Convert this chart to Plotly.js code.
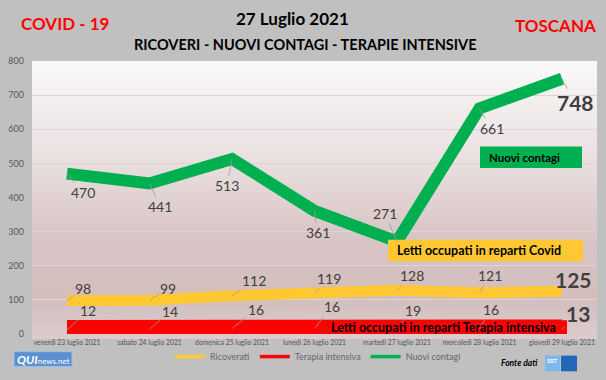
<!DOCTYPE html>
<html>
<head>
<meta charset="utf-8">
<script src="https://cdn.plot.ly/plotly-3.0.1.min.js"></script>
<style>
  html, body { margin:0; padding:0; background:#c0c0c0; }
  #wrap { position:relative; width:606px; height:380px; background:#c0c0c0; overflow:hidden; }
  #grad { position:absolute; left:32px; top:61px; width:565px; height:278px;
          background:linear-gradient(to bottom, #faf9f9 0%, #eae0e0 35%, #d9c6c6 62%, #d3bdbd 85%, #dccdcd 100%); }
  #chart { position:absolute; left:0; top:0; width:606px; height:380px; }
</style>
</head>
<body>
<div id="wrap"><div id="grad"></div><div id="chart"></div></div>
<script>
// ---- data ----
const dates = ['venerdì 23 luglio 2021', 'sabato 24 luglio 2021', 'domenica 25 luglio 2021',
               'lunedì 26 luglio 2021', 'martedì 27 luglio 2021', 'mercoledì 28 luglio 2021',
               'giovedì 29 luglio 2021'];
const ricoverati = [98, 99, 112, 119, 128, 121, 125];
const terapia = [12, 14, 16, 16, 19, 16, 13];
const contagi = [470, 441, 513, 361, 271, 661, 748];
const seriesNames = ['Ricoverati', 'Terapia intensiva', 'Nuovi contagi'];
const yTicks = [0, 100, 200, 300, 400, 500, 600, 700, 800];

// ---- styling ----
const GREEN = '#00b050', YELLOW = '#ffc832', RED = '#ff0000';
const FONT = 'Lato, "Open Sans", sans-serif';
const L = 32, R = 597, T = 61, B = 339;
const px = v => (v - L) / (R - L);
const py = v => (B - v) / (B - T);

const traces = [
  {x: dates, y: terapia, name: seriesNames[1], mode: 'lines', line: {color: RED, width: 20}, showlegend: false, hoverinfo: 'skip'},
  {x: dates, y: ricoverati, name: seriesNames[0], mode: 'lines', line: {color: YELLOW, width: 11}, showlegend: false, hoverinfo: 'skip'},
  {x: dates, y: contagi, name: seriesNames[2], mode: 'lines', line: {color: GREEN, width: 12}, showlegend: false, hoverinfo: 'skip'},
  // legend entries
  {x: [null], y: [null], name: seriesNames[0], mode: 'lines', line: {color: YELLOW, width: 3.5}},
  {x: [null], y: [null], name: seriesNames[1], mode: 'lines', line: {color: RED, width: 3.5}},
  {x: [null], y: [null], name: seriesNames[2], mode: 'lines', line: {color: GREEN, width: 3.5}}
];

// label offsets (pixels, text centre relative to point)
const gOff = [[16,19],[11,23],[-5,27],[3,22],[-12,-28],[12,20],[13,24]];
const yOff = [[16,-12],[19,-12],[22,-15],[14,-15],[15,-15],[10,-17],[11,-12]];
const rOff = [[21,-19],[21,-18],[24,-19],[17,-22],[16,-17],[11,-19],[16,-16]];

const annotations = [];
function addLabels(vals, offs) {
  vals.forEach((v, i) => {
    const last = i === vals.length - 1;
    annotations.push({
      x: dates[i], y: v, xref: 'x', yref: 'y',
      text: last ? '<b>' + v + '</b>' : String(v),
      showarrow: true, arrowhead: 0, arrowwidth: 0.8, arrowcolor: '#9a9a9a',
      ax: offs[i][0], ay: offs[i][1], standoff: 0,
      font: {family: FONT, size: last ? 21 : 14, color: '#404040'}
    });
  });
}
addLabels(contagi, gOff);
addLabels(ricoverati, yOff);
addLabels(terapia, rOff);

// box texts
annotations.push(
  {xref:'paper', yref:'paper', x: px(487), y: py(159), xanchor:'left', yanchor:'middle', showarrow:false,
   text:'<b>Nuovi contagi</b>', font:{family:FONT, size:11.5, color:'#000'}},
  {xref:'paper', yref:'paper', x: px(395), y: py(254), xanchor:'left', yanchor:'middle', showarrow:false,
   text:'<b>Letti occupati in reparti Covid</b>', font:{family:FONT, size:12.5, color:'#000'}},
  {xref:'paper', yref:'paper', x: px(329), y: py(332), xanchor:'left', yanchor:'middle', showarrow:false,
   text:'<b>Letti occupati in reparti Terapia intensiva</b>', font:{family:FONT, size:12.5, color:'#000'}},
  // titles
  {xref:'paper', yref:'paper', x: px(292), y: py(18), xanchor:'center', yanchor:'middle', showarrow:false,
   text:'<b>27 Luglio 2021</b>', font:{family:FONT, size:17, color:'#000'}},
  {xref:'paper', yref:'paper', x: px(305), y: py(44), xanchor:'center', yanchor:'middle', showarrow:false,
   text:'<b>RICOVERI - NUOVI CONTAGI - TERAPIE INTENSIVE</b>', font:{family:FONT, size:14.5, color:'#000'}},
  {xref:'paper', yref:'paper', x: px(65), y: py(23), xanchor:'center', yanchor:'middle', showarrow:false,
   text:'<b>COVID - 19</b>', font:{family:FONT, size:17, color:RED}},
  {xref:'paper', yref:'paper', x: px(555), y: py(25), xanchor:'center', yanchor:'middle', showarrow:false,
   text:'<b>TOSCANA</b>', font:{family:FONT, size:17, color:RED}},
  // logos / source
  {xref:'paper', yref:'paper', x: px(43), y: py(365), xanchor:'center', yanchor:'middle', showarrow:false,
   text:'<b><i>QUI</i></b><span style="font-size:8px">news.net</span>', font:{family:FONT, size:12, color:'#fff'}},
  {xref:'paper', yref:'paper', x: px(540), y: py(369), xanchor:'right', yanchor:'middle', showarrow:false,
   text:'<b><i>Fonte dati</i></b>', font:{family:FONT, size:8.5, color:'#000'}},
  {xref:'paper', yref:'paper', x: px(552), y: py(366), xanchor:'center', yanchor:'middle', showarrow:false,
   text:'<b>SST</b>', font:{family:FONT, size:6, color:'#fff'}}
);

const shapes = [
  {type:'rect', xref:'paper', yref:'paper', x0:px(480), x1:px(582), y0:py(170), y1:py(148), fillcolor:GREEN, line:{width:0}, layer:'above'},
  {type:'rect', xref:'paper', yref:'paper', x0:px(388), x1:px(583), y0:py(265), y1:py(243), fillcolor:YELLOW, line:{width:0}, layer:'above'},
  {type:'rect', xref:'paper', yref:'paper', x0:px(320), x1:px(567), y0:py(339), y1:py(325), fillcolor:RED, line:{width:0}, layer:'above'},
  {type:'rect', xref:'paper', yref:'paper', x0:px(14), x1:px(72), y0:py(372), y1:py(357), fillcolor:'#5a8fd2', line:{color:'#9cc0ea', width:1}, layer:'above'},
  {type:'rect', xref:'paper', yref:'paper', x0:px(545), x1:px(560), y0:py(377), y1:py(361), fillcolor:'#7cb8ec', line:{width:0}, layer:'above'},
  {type:'rect', xref:'paper', yref:'paper', x0:px(561), x1:px(577), y0:py(377), y1:py(361), fillcolor:'#2466b8', line:{width:0}, layer:'above'}
];

const layout = {
  width: 606, height: 380,
  margin: {l: L, r: 606 - R, t: T, b: 380 - B, pad: 0},
  paper_bgcolor: 'rgba(0,0,0,0)',
  plot_bgcolor: 'rgba(0,0,0,0)',
  font: {family: FONT, color: '#595959'},
  showlegend: true,
  legend: {orientation: 'h', x: px(170), xanchor: 'left', y: py(362), yanchor: 'middle',
           bgcolor: 'rgba(0,0,0,0)', font: {family: FONT, size: 9, color: '#666'},
           itemwidth: 30, tracegroupgap: 0},
  xaxis: {type: 'category', range: [-0.424, 6.424], showgrid: false, zeroline: false, showline: false,
          ticks: '', tickfont: {family: FONT, size: 6.8, color: '#555'}, tickangle: 0, ticklabelstandoff: 3,
          fixedrange: true},
  yaxis: {range: [0, 800], tickvals: yTicks, showgrid: true, gridcolor: '#ddd5d5', gridwidth: 1,
          zeroline: false, showline: false, ticks: '', ticklabelstandoff: 7,
          tickfont: {family: FONT, size: 9, color: '#595959'}, fixedrange: true},
  annotations: annotations,
  shapes: shapes
};

Plotly.newPlot('chart', traces, layout, {displayModeBar: false, staticPlot: true});
</script>
</body>
</html>
